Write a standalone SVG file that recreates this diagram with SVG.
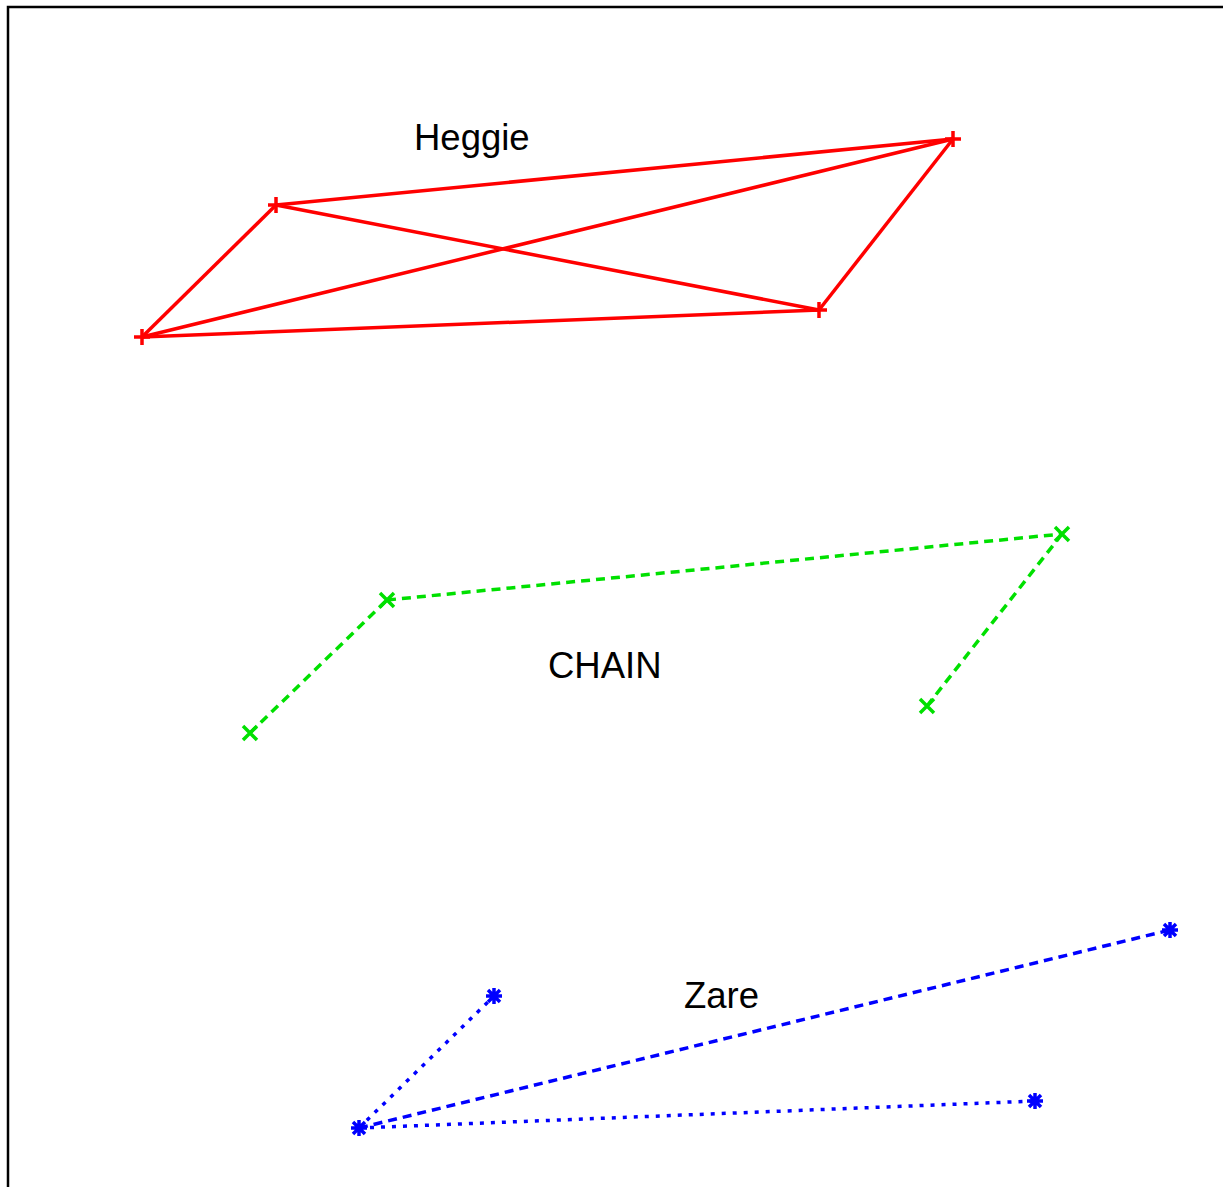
<svg xmlns="http://www.w3.org/2000/svg" width="1223" height="1187" viewBox="0 0 1223 1187">
<style>
.frame{fill:none;stroke:#000;stroke-width:2.5}
.r{stroke:#ff0000;stroke-width:3.5;fill:none}
.g{stroke:#00e000;stroke-width:3.5;fill:none;stroke-dasharray:9,6}
.bd{stroke:#0000ff;stroke-width:3.5;fill:none;stroke-dasharray:9,6}
.bt{stroke:#0000ff;stroke-width:3.5;fill:none;stroke-dasharray:4,7}
.lbl{font-family:"Liberation Sans",Arial,sans-serif;font-size:36.5px;fill:#000}
</style>
<defs>
<path id="plus" d="M-8,0H8M0,-8V8" stroke="#ff0000" stroke-width="3.5"/>
<path id="cross" d="M-7,-7L7,7M-7,7L7,-7" stroke="#00e000" stroke-width="3.5"/>
<path id="star" d="M-8,0H8M0,-8V8M-6,-6L6,6M-6,6L6,-6" stroke="#0000ff" stroke-width="3.5"/>
</defs>
<path class="frame" d="M8,1187V7H1223"/>
<g id="connectors">
<path class="r" d="M276,205L953,139" stroke-width="4"/>
<path class="r" d="M142,337L953,139"/>
<path class="r" d="M276,205L819,310"/>
<path class="r" d="M819,310L953,139"/>
<path class="r" d="M142,337L276,205"/>
<path class="r" d="M142,337L819,310"/>
<path class="g" d="M250,733L387,600"/>
<path class="g" d="M387,600L1062,534"/>
<path class="g" d="M1062,534L927,706"/>
<path class="bt" d="M359,1128L494,996"/>
<path class="bd" d="M359,1128L1170,930"/>
<path class="bt" d="M359,1128L1035,1101"/>
</g>
<g id="heggie"><text class="lbl" x="414" y="150">Heggie</text>
<use href="#plus" x="276" y="205"/><use href="#plus" x="953" y="139"/><use href="#plus" x="819" y="310"/><use href="#plus" x="142" y="337"/></g>
<g id="chain"><text class="lbl" x="548" y="678">CHAIN</text>
<use href="#cross" x="250" y="733"/><use href="#cross" x="387" y="600"/><use href="#cross" x="1062" y="534"/><use href="#cross" x="927" y="706"/></g>
<g id="zare"><text class="lbl" x="684" y="1008">Zare</text>
<use href="#star" x="359" y="1128"/><use href="#star" x="494" y="996"/><use href="#star" x="1170" y="930"/><use href="#star" x="1035" y="1101"/></g>
</svg>
